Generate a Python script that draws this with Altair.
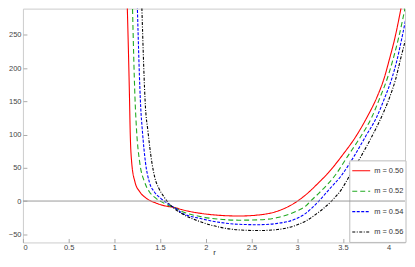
import altair as alt
import pandas as pd

# ---------------- data ----------------
m_labels = ["m = 0.50", "m = 0.52", "m = 0.54", "m = 0.56"]

r_050 = [1.140, 1.166, 1.173, 1.190, 1.226, 1.278, 1.348, 1.453, 1.576, 1.660, 1.733, 1.943,
         2.153, 2.363, 2.574, 2.784, 2.994, 3.099, 3.238, 3.344, 3.501, 3.642, 3.764, 3.869,
         3.950, 4.010, 4.065, 4.150]
v_050 = [301, 155, 107, 57.8, 28.6, 14.0, 4.4, -2.9, -7.9, -9.8, -12.7, -18.5,
         -21.5, -22.5, -21.0, -15.2, -1.0, 10.0, 28.0, 43.0, 70.0, 97.0, 126, 155,
         184, 213.6, 242.8, 300]

r_052 = [1.197, 1.226, 1.243, 1.278, 1.331, 1.383, 1.453, 1.541, 1.610, 1.660, 1.733, 1.943,
         2.153, 2.363, 2.574, 2.784, 2.994, 3.099, 3.151, 3.239, 3.414, 3.554, 3.694, 3.816,
         3.904, 3.985, 4.050, 4.105, 4.195]
v_052 = [301, 155, 107, 57.8, 28.6, 14.0, 4.4, -2.9, -7.9, -10.0, -15.2, -23.4,
         -27.3, -28.8, -28.3, -24.8, -15.2, -6.9, 0.4, 12.0, 38.4, 67.6, 96.8, 126,
         155, 184, 213.6, 242.8, 300]

r_054 = [1.250, 1.289, 1.306, 1.341, 1.383, 1.436, 1.505, 1.576, 1.628, 1.660, 1.733, 1.943,
         2.153, 2.363, 2.574, 2.784, 2.994, 3.078, 3.240, 3.344, 3.484, 3.624, 3.747, 3.869,
         3.957, 4.035, 4.095, 4.142, 4.225]
v_054 = [301, 140, 107, 57.8, 28.6, 14.0, 4.4, -2.9, -7.9, -10.0, -17.5, -26.3,
         -32.1, -35.0, -35.6, -33.6, -26.3, -20.0, 0.4, 16.5, 38.4, 67.6, 96.8, 126,
         155, 184, 213.6, 242.8, 300]

r_056 = [1.299, 1.341, 1.366, 1.411, 1.446, 1.488, 1.541, 1.593, 1.646, 1.733, 1.943, 2.153,
         2.363, 2.574, 2.784, 2.994, 3.099, 3.204, 3.379, 3.480, 3.575, 3.700, 3.816, 3.921,
         4.009, 4.079, 4.131, 4.184, 4.230]
v_056 = [301, 140, 107, 57.8, 33.6, 19.0, 6.7, -2.9, -10.2, -18.5, -31.2, -39.4,
         -43.4, -44.4, -42.9, -36.1, -29.8, -20.0, 0.4, 16.5, 38.4, 67.6, 96.8, 126,
         155, 184, 213.6, 242.8, 275]

x_ticks = [0, 0.5, 1, 1.5, 2, 2.5, 3, 3.5, 4]
y_ticks = [-50, 0, 50, 100, 150, 200, 250]

# ---------------- styles / layout ----------------
colors = ["#ff0000", "#22aa22", "#0000ff", "#000000"]
dashes = [[1, 0], [5, 3], [3, 1.5], [3, 1.5, 1, 1.5]]
X_DOMAIN = [0, 4.18]
Y_DOMAIN = [-62.3, 289.5]
FONT = "Liberation Sans"
W, H = 384, 235

rows = []
for lab, rs, vs in zip(m_labels, [r_050, r_052, r_054, r_056], [v_050, v_052, v_054, v_056]):
    for r, v in zip(rs, vs):
        rows.append({"m": lab, "r": r, "V": v})
df = pd.DataFrame(rows)

xscale = alt.Scale(domain=X_DOMAIN, nice=False, zero=False)
yscale = alt.Scale(domain=Y_DOMAIN, nice=False, zero=False)

axis_common = dict(labelFont=FONT, labelFontSize=7.5, labelColor="#444444",
                   tickColor="#aaaaaa", tickSize=4, offset=-4, domain=False,
                   grid=False, labelOverlap=False)

x_axis = alt.Axis(values=x_ticks, format="~g", title="r", titleFont=FONT,
                  titleFontSize=8, titleFontWeight="normal", titleColor="#333333",
                  titlePadding=-2, labelPadding=1, **axis_common)
y_axis = alt.Axis(values=y_ticks, format="d", title=None, labelPadding=2, **axis_common)

curves = alt.Chart(df).mark_line(clip=True, strokeWidth=1.1, interpolate="monotone").encode(
    x=alt.X("r:Q", scale=xscale, axis=x_axis),
    y=alt.Y("V:Q", scale=yscale, axis=y_axis),
    color=alt.Color("m:N", scale=alt.Scale(domain=m_labels, range=colors), legend=None),
    strokeDash=alt.StrokeDash("m:N", scale=alt.Scale(domain=m_labels, range=dashes), legend=None),
)

one = pd.DataFrame({"a": [0]})


def px(e):
    return {"value": {"expr": e}}


legend_box = alt.Chart(one).mark_rect(fill="white", stroke="#bbbbbb", strokeWidth=1).encode(
    x=px("width - 55.5"), x2=px("width + 1"), y=px("height - 82"), y2=px("height")
)

zero_rule = alt.Chart(pd.DataFrame({"V": [0]})).mark_rule(color="#999999", strokeWidth=1).encode(
    y=alt.Y("V:Q", scale=yscale, axis=y_axis)
)

layers = [curves, legend_box, zero_rule]
for i, lab in enumerate(m_labels):
    yy = "height - %.1f" % (72.0 - 20.5 * i)
    layers.append(
        alt.Chart(one).mark_rule(color=colors[i], strokeDash=dashes[i], strokeWidth=1.1).encode(
            x=px("width - 53"), x2=px("width - 35"), y=px(yy)
        )
    )
    layers.append(
        alt.Chart(one).mark_text(align="left", baseline="middle", font=FONT, fontSize=7.5,
                                 color="#333333").encode(
            x=px("width - 31"), y=px(yy), text=alt.value(lab)
        )
    )

chart = alt.layer(*layers).properties(
    width=W, height=H,
    padding={"left": 0, "top": 0, "right": 0, "bottom": 0},
).configure_view(stroke="#cccccc").configure_axis(labelOverlap=False)

chart.save("out.html", embed_options={"renderer": "svg", "actions": False})
